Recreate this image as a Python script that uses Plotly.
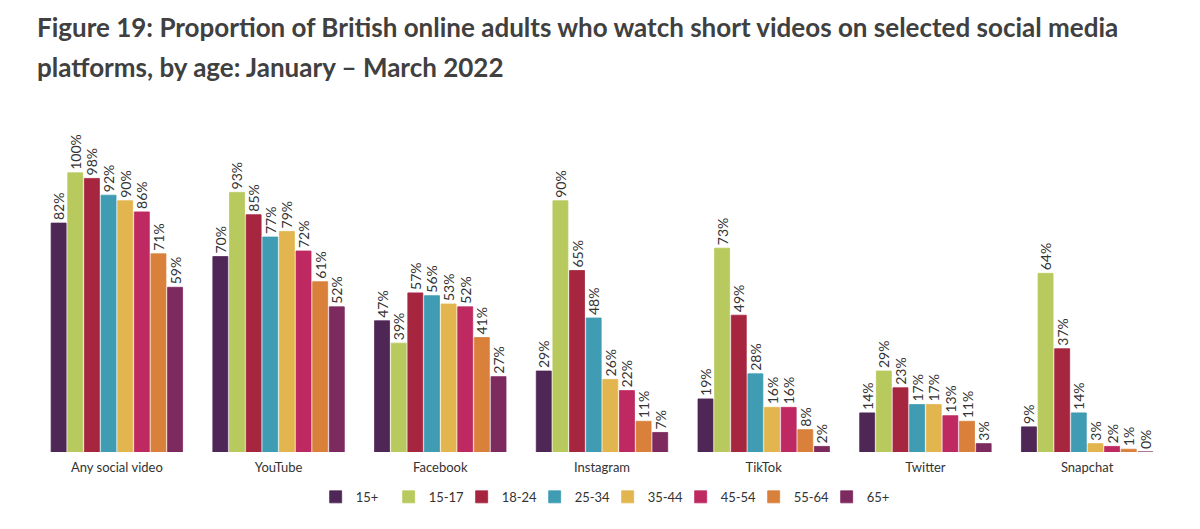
import plotly.graph_objects as go

platforms = ["Any social video", "YouTube", "Facebook", "Instagram", "TikTok", "Twitter", "Snapchat"]
age_groups = ["15+", "15-17", "18-24", "25-34", "35-44", "45-54", "55-64", "65+"]

v_15plus = [82, 70, 47, 29, 19, 14, 9]
v_15_17 = [100, 93, 39, 90, 73, 29, 64]
v_18_24 = [98, 85, 57, 65, 49, 23, 37]
v_25_34 = [92, 77, 56, 48, 28, 17, 14]
v_35_44 = [90, 79, 53, 26, 16, 17, 3]
v_45_54 = [86, 72, 52, 22, 16, 13, 2]
v_55_64 = [71, 61, 41, 11, 8, 11, 1]
v_65plus = [59, 52, 27, 7, 2, 3, 0]

series = [v_15plus, v_15_17, v_18_24, v_25_34, v_35_44, v_45_54, v_55_64, v_65plus]
colors = ["#4f2757", "#b8c95d", "#a6263f", "#3f9cb2", "#e2b54f", "#bd2960", "#d9803b", "#7d2a5f"]

title_line1 = "Figure 19: Proportion of British online adults who watch short videos on selected social media"
title_line2 = "platforms, by age: January \u2013 March 2022"

FONT = "Lato, Open Sans, sans-serif"

fig = go.Figure()
for name, vals, col in zip(age_groups, series, colors):
    fig.add_trace(go.Bar(
        name=name,
        x=platforms,
        y=vals,
        marker=dict(color=col, line=dict(color=col, width=0.8)),
        text=[f"{v}%" for v in vals],
        textposition="outside",
        textangle=-90,
        constraintext="none",
        textfont=dict(family=FONT, size=14, color="#333333"),
        cliponaxis=False,
    ))

fig.update_layout(
    width=1200,
    height=529,
    margin=dict(l=36, r=32, t=117, b=77),
    barmode="group",
    bargap=0.177,
    bargroupgap=0.1,
    plot_bgcolor="white",
    paper_bgcolor="white",
    font=dict(family=FONT, color="#333333"),
    legend=dict(
        orientation="h",
        x=0.505, xanchor="center",
        y=-0.134, yanchor="middle",
        font=dict(family=FONT, size=13, color="#333333"),
        itemwidth=30,
        entrywidth=28,
        entrywidthmode="pixels",
        traceorder="normal",
    ),
    xaxis=dict(
        showline=False, showgrid=False, ticks="",
        ticklabelstandoff=6,
        tickfont=dict(family=FONT, size=13, color="#333333"),
    ),
    yaxis=dict(
        range=[0, 120], visible=False, showgrid=False, zeroline=False,
    ),
    annotations=[
        dict(text=f"<b>{title_line1}</b>", xref="paper", yref="paper",
             x=-0.001, y=1.27, xanchor="left", yanchor="middle", showarrow=False,
             font=dict(family=FONT, size=26, color="#404040")),
        dict(text=f"<b>{title_line2}</b>", xref="paper", yref="paper",
             x=-0.001, y=1.149, xanchor="left", yanchor="middle", showarrow=False,
             font=dict(family=FONT, size=26, color="#404040")),
    ],
)

fig.write_html("out.html")
